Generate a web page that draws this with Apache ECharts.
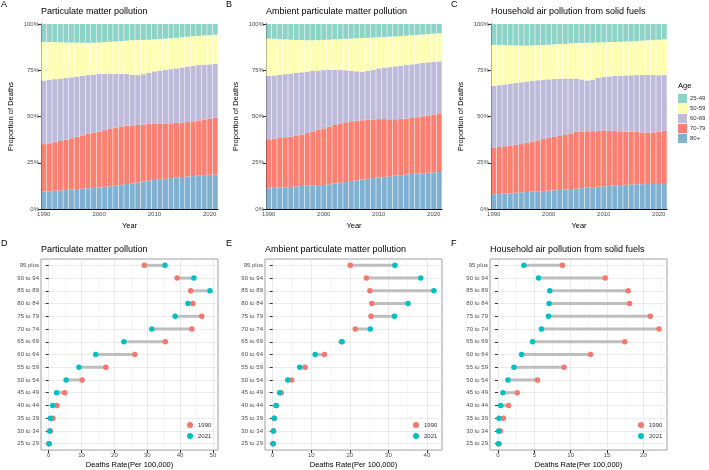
<!DOCTYPE html>
<html>
<head>
<meta charset="utf-8">
<script src="https://cdn.jsdelivr.net/npm/echarts@6/dist/echarts.min.js"></script>
<style>
  html, body { margin: 0; padding: 0; background: #fff; }
  #main { width: 709px; height: 470px; }
</style>
</head>
<body>
<div id="main"></div>
<script>
// years on the x axis of the top row
var years = ['1990', '1991', '1992', '1993', '1994', '1995', '1996', '1997', '1998', '1999',
  '2000', '2001', '2002', '2003', '2004', '2005', '2006', '2007', '2008', '2009',
  '2010', '2011', '2012', '2013', '2014', '2015', '2016', '2017', '2018', '2019',
  '2020', '2021'];
var ageGroups = ['25-49', '50-59', '60-69', '70-79', '80+'];
var ageColors = ['#8DD3C7', '#FFFFB3', '#BEBADA', '#FB8072', '#80B1D3'];

// A: Particulate matter pollution, share of deaths (%)
var pmAge80 = [9.4, 9.6, 9.9, 10.1, 10.3, 10.5, 10.8, 11.0, 11.2, 11.4, 11.6, 12.0, 12.3, 12.7, 13.1, 13.5, 13.9, 14.3, 14.8, 15.3, 15.7, 16.0, 16.3, 16.7, 17.0, 17.3, 17.6, 17.8, 18.0, 18.3, 18.5, 18.7];
var pmAge70 = [25.7, 25.9, 26.2, 26.7, 27.2, 27.7, 28.2, 28.8, 29.4, 29.9, 30.3, 30.6, 31.0, 31.3, 31.5, 31.5, 31.3, 31.1, 30.9, 30.7, 30.6, 30.3, 29.9, 29.6, 29.5, 29.4, 29.4, 29.6, 29.9, 30.1, 30.4, 30.7];
var pmAge60 = [34.3, 34.3, 34.1, 33.7, 33.4, 33.0, 32.6, 32.2, 31.8, 31.4, 31.1, 30.5, 29.9, 29.2, 28.5, 28.0, 27.4, 27.0, 27.2, 27.7, 28.1, 28.5, 29.0, 29.3, 29.5, 29.8, 30.0, 30.0, 29.9, 29.6, 29.3, 29.0];
var pmAge50 = [21.0, 20.5, 20.0, 19.6, 19.1, 18.8, 18.3, 17.9, 17.4, 17.2, 17.0, 17.1, 17.2, 17.4, 17.7, 18.0, 18.6, 18.9, 18.5, 17.8, 17.3, 17.1, 16.9, 16.7, 16.5, 16.3, 16.1, 16.0, 15.8, 15.8, 15.8, 15.8];
var pmAge25 = [9.6, 9.7, 9.8, 9.9, 10.0, 10.0, 10.1, 10.1, 10.2, 10.1, 10.0, 9.8, 9.6, 9.4, 9.2, 9.0, 8.8, 8.7, 8.6, 8.5, 8.3, 8.1, 7.9, 7.7, 7.5, 7.2, 6.9, 6.6, 6.4, 6.2, 6.0, 5.8];

// B: Ambient particulate matter pollution
var apAge80 = [11.2, 11.4, 11.6, 11.8, 12.0, 12.2, 12.4, 12.6, 12.7, 12.9, 13.0, 13.4, 13.8, 14.2, 14.6, 15.1, 15.5, 15.9, 16.3, 16.7, 17.1, 17.4, 17.7, 18.0, 18.3, 18.6, 18.9, 19.1, 19.3, 19.6, 19.8, 20.0];
var apAge70 = [26.5, 26.6, 26.8, 27.0, 27.1, 27.3, 27.9, 28.5, 29.3, 29.9, 30.6, 31.1, 31.6, 32.1, 32.3, 32.3, 32.2, 32.1, 31.9, 31.7, 31.5, 31.2, 30.8, 30.5, 30.3, 30.2, 30.3, 30.5, 30.8, 31.0, 31.3, 31.7];
var apAge60 = [34.2, 34.2, 34.1, 34.1, 34.1, 34.0, 33.6, 33.2, 32.6, 32.1, 31.5, 30.7, 29.8, 28.8, 28.1, 27.4, 26.7, 26.1, 26.4, 26.9, 27.4, 27.8, 28.2, 28.6, 28.9, 29.0, 29.0, 29.0, 28.9, 28.7, 28.5, 28.1];
var apAge50 = [20.2, 19.8, 19.3, 18.8, 18.3, 17.9, 17.4, 16.9, 16.6, 16.4, 16.3, 16.3, 16.5, 16.7, 17.0, 17.3, 17.9, 18.3, 17.9, 17.4, 16.8, 16.6, 16.5, 16.2, 16.0, 15.9, 15.7, 15.5, 15.3, 15.3, 15.2, 15.2];
var apAge25 = [7.9, 8.0, 8.2, 8.3, 8.5, 8.6, 8.7, 8.8, 8.8, 8.7, 8.6, 8.5, 8.3, 8.2, 8.0, 7.9, 7.7, 7.6, 7.5, 7.3, 7.2, 7.0, 6.8, 6.7, 6.5, 6.3, 6.1, 5.9, 5.7, 5.4, 5.2, 5.0];

// C: Household air pollution from solid fuels
var hhAge80 = [7.9, 8.1, 8.3, 8.5, 8.8, 9.0, 9.2, 9.4, 9.5, 9.7, 9.9, 10.1, 10.3, 10.6, 10.8, 11.0, 11.3, 11.5, 11.8, 12.0, 12.3, 12.5, 12.7, 12.9, 13.1, 13.3, 13.4, 13.4, 13.5, 13.5, 13.5, 13.5];
var hhAge70 = [25.3, 25.4, 25.6, 25.8, 25.9, 26.1, 26.5, 27.0, 27.6, 28.1, 28.5, 28.9, 29.2, 29.4, 30.1, 30.8, 30.7, 30.5, 30.3, 30.3, 30.2, 29.9, 29.5, 29.1, 28.8, 28.5, 28.2, 28.0, 27.8, 27.9, 28.2, 28.7];
var hhAge60 = [33.3, 33.4, 33.4, 33.4, 33.4, 33.4, 33.2, 32.9, 32.5, 32.1, 31.7, 31.3, 30.9, 30.5, 29.6, 28.7, 28.0, 27.5, 27.9, 28.5, 29.0, 29.3, 29.7, 30.0, 30.3, 30.5, 30.8, 31.1, 31.2, 31.0, 30.6, 30.2];
var hhAge50 = [22.3, 21.8, 21.3, 20.8, 20.3, 19.8, 19.4, 19.1, 18.9, 18.7, 18.7, 18.7, 18.8, 18.8, 19.0, 19.2, 19.8, 20.4, 19.9, 19.2, 18.6, 18.5, 18.4, 18.4, 18.3, 18.3, 18.4, 18.5, 18.7, 19.0, 19.2, 19.3];
var hhAge25 = [11.2, 11.3, 11.4, 11.5, 11.6, 11.7, 11.7, 11.6, 11.5, 11.4, 11.2, 11.0, 10.8, 10.7, 10.5, 10.3, 10.2, 10.1, 10.1, 10.0, 9.9, 9.8, 9.7, 9.6, 9.5, 9.4, 9.2, 9.0, 8.8, 8.6, 8.5, 8.3];

// bottom row: age bands (bottom to top) and death rates per 100,000
var rateAges = ['25 to 29', '30 to 34', '35 to 39', '40 to 44', '45 to 49', '50 to 54', '55 to 59',
  '60 to 64', '65 to 69', '70 to 74', '75 to 79', '80 to 84', '85 to 89', '90 to 94', '95 plus'];
var pmRate1990 = [0.1, 0.5, 1.3, 2.5, 4.9, 10.2, 17.4, 26.2, 35.5, 43.6, 46.6, 43.9, 43.2, 39.1, 29.1];
var pmRate2021 = [0.1, 0.3, 0.5, 1.2, 2.4, 5.3, 9.2, 14.3, 22.9, 31.4, 38.5, 42.4, 49.1, 44.2, 35.4];
var apRate1990 = [0.1, 0.2, 0.4, 0.9, 2.2, 4.9, 8.4, 13.4, 17.8, 21.4, 25.5, 25.7, 25.2, 24.3, 20.1];
var apRate2021 = [0.1, 0.2, 0.4, 0.9, 1.8, 3.9, 7.0, 11.0, 18.0, 25.3, 31.6, 35.1, 41.8, 38.4, 31.7];
var hhRate1990 = [0.15, 0.32, 0.73, 1.46, 2.65, 5.43, 9.09, 12.74, 17.44, 22.15, 20.96, 18.1, 17.9, 14.75, 8.86];
var hhRate2021 = [0.05, 0.09, 0.14, 0.37, 0.68, 1.37, 2.19, 3.24, 4.75, 5.98, 6.94, 7.03, 7.12, 5.57, 3.56];
var rateTicks = [[0, 10, 20, 30, 40, 50], [0, 10, 20, 30, 40], [0, 5, 10, 15, 20]];
var rateMinor = [[5, 15, 25, 35, 45], [5, 15, 25, 35], [2.5, 7.5, 12.5, 17.5, 22.5]];

var titles = ['Particulate matter pollution', 'Ambient particulate matter pollution', 'Household air pollution from solid fuels'];
var topShares = [
  [pmAge25, pmAge50, pmAge60, pmAge70, pmAge80],
  [apAge25, apAge50, apAge60, apAge70, apAge80],
  [hhAge25, hhAge50, hhAge60, hhAge70, hhAge80]
];
var rates = [[pmRate1990, pmRate2021], [apRate1990, apRate2021], [hhRate1990, hhRate2021]];

var myChart = echarts.init(document.getElementById('main'));

var lefts = [41, 266, 491];
var rights = [491, 267, 42];   // distance from right edge
var botLefts = [41, 265, 490];
var botRights = [491, 267, 42];
var rateRange = [[-2.35, 51.55], [-2.0, 43.9], [-1.1, 23.25]];
var labelGrey = '#4D4D4D';
var yearTick = function (idx, val) { return Number(val) % 10 === 0; };

var grid = [], xAxis = [], yAxis = [], series = [], title = [], legend = [];

// panel letters and titles
['A', 'B', 'C'].forEach(function (l, i) {
  title.push({ text: l, left: [1, 226, 451][i], top: 0, padding: 0,
    textStyle: { fontSize: 9, fontWeight: 'normal', color: '#000' } });
  title.push({ text: titles[i], left: lefts[i], top: 7, padding: 0,
    textStyle: { fontSize: 9, fontWeight: 'normal', color: '#000' } });
});
['D', 'E', 'F'].forEach(function (l, i) {
  title.push({ text: l, left: [1, 226, 451][i], top: 239, padding: 0,
    textStyle: { fontSize: 9, fontWeight: 'normal', color: '#000' } });
  title.push({ text: titles[i], left: botLefts[i], top: 245, padding: 0,
    textStyle: { fontSize: 9, fontWeight: 'normal', color: '#000' } });
});
title.push({ text: 'Age', left: 678, top: 82, padding: 0,
  textStyle: { fontSize: 7.5, fontWeight: 'normal', color: '#000' } });

// top row: stacked proportions
for (var i = 0; i < 3; i++) {
  grid.push({ left: lefts[i], right: rights[i], top: 24, height: 185 });
  xAxis.push({
    type: 'category', gridIndex: i, data: years,
    axisLine: { lineStyle: { color: '#000', width: 1 } },
    axisTick: { alignWithLabel: true, interval: yearTick, length: 3, lineStyle: { color: '#333' } },
    axisLabel: { interval: yearTick, fontSize: 6, color: labelGrey, margin: 2 },
    name: 'Year', nameLocation: 'middle', nameGap: 13,
    nameTextStyle: { fontSize: 7.5, color: '#000' }
  });
  yAxis.push({
    type: 'value', gridIndex: i, min: 0, max: 100, interval: 25,
    axisLine: { show: true, lineStyle: { color: '#000', width: 1 } },
    axisTick: { show: true, length: 3, lineStyle: { color: '#333' } },
    axisLabel: { formatter: '{value}%', fontSize: 6, color: labelGrey, margin: 2 },
    splitLine: { show: false },
    name: 'Proportion of Deaths', nameLocation: 'middle', nameGap: 26,
    nameTextStyle: { fontSize: 7.5, color: '#000' }
  });
  // stack from the bottom: 80+ first
  for (var g = 4; g >= 0; g--) {
    series.push({
      type: 'bar', name: ageGroups[g], stack: 'share' + i,
      xAxisIndex: i, yAxisIndex: i,
      data: topShares[i][g], barCategoryGap: '10%',
      itemStyle: { color: ageColors[g] }
    });
  }
}

legend.push({
  data: ageGroups, left: 678, top: 94, orient: 'vertical', padding: 0,
  icon: 'rect', itemWidth: 9, itemHeight: 9, itemGap: 1, selectedMode: false,
  textStyle: { fontSize: 6, color: '#333', padding: [0, 0, 0, -2] }
});

// bottom row: 1990 vs 2021 death rates
for (var k = 0; k < 3; k++) {
  var gi = 3 + k;
  grid.push({ left: botLefts[k], right: botRights[k], top: 259, height: 192,
    show: true, borderColor: '#A0A0A0', borderWidth: 1 });
  xAxis.push({
    type: 'value', gridIndex: gi, min: rateRange[k][0], max: rateRange[k][1],
    axisLine: { show: false },
    axisTick: { show: true, length: 3, customValues: rateTicks[k], lineStyle: { color: '#333' } },
    axisLabel: { customValues: rateTicks[k], fontSize: 6, color: labelGrey, margin: 2 },
    splitLine: { show: true, lineStyle: { color: '#E6E6E6', width: 0.8 } },
    name: 'Deaths Rate(Per 100,000)', nameLocation: 'middle', nameGap: 11,
    nameTextStyle: { fontSize: 7.5, color: '#000' }
  });
  yAxis.push({
    type: 'category', gridIndex: gi, data: rateAges,
    axisLine: { show: false },
    axisTick: { show: true, alignWithLabel: true, length: 3, lineStyle: { color: '#333' } },
    axisLabel: { fontSize: 6, color: labelGrey, margin: 2 },
    splitLine: { show: true, alignWithLabel: true, lineStyle: { color: '#E6E6E6', width: 0.8 } }
  });
  legend.push({
    data: ['1990', '2021'], left: [187, 413, 638][k], top: 422, orient: 'vertical', padding: 0,
    icon: 'circle', itemWidth: 6, itemHeight: 6, itemGap: 5, selectedMode: false,
    textStyle: { fontSize: 6, color: '#333' }
  });
}
// minor vertical grid lines
for (var m = 0; m < 3; m++) {
  xAxis.push({
    type: 'value', gridIndex: 3 + m, min: rateRange[m][0], max: rateRange[m][1], position: 'bottom',
    axisLine: { show: false }, axisLabel: { show: false },
    axisTick: { show: false, customValues: rateMinor[m] },
    splitLine: { show: true, lineStyle: { color: '#F2F2F2', width: 0.6 } }
  });
}

for (var s = 0; s < 3; s++) {
  var r90 = rates[s][0], r21 = rates[s][1];
  series.push({
    type: 'custom', xAxisIndex: 3 + s, yAxisIndex: 3 + s,
    data: rateAges.map(function (a, i) { return [r90[i], r21[i], i]; }),
    encode: { x: [0, 1], y: 2 },
    renderItem: function (params, api) {
      var p1 = api.coord([api.value(0), api.value(2)]);
      var p2 = api.coord([api.value(1), api.value(2)]);
      return { type: 'line', shape: { x1: p1[0], y1: p1[1], x2: p2[0], y2: p2[1] },
        style: { stroke: '#BEBEBE', lineWidth: 3 } };
    }
  });
  series.push({
    type: 'scatter', name: '1990', xAxisIndex: 3 + s, yAxisIndex: 3 + s,
    symbolSize: 5.5, itemStyle: { color: '#F8766D', opacity: 1 },
    data: r90.map(function (v, i) { return [v, rateAges[i]]; })
  });
  series.push({
    type: 'scatter', name: '2021', xAxisIndex: 3 + s, yAxisIndex: 3 + s,
    symbolSize: 5.5, itemStyle: { color: '#00BFC4', opacity: 1 },
    data: r21.map(function (v, i) { return [v, rateAges[i]]; })
  });
}

myChart.setOption({
  animation: false,
  textStyle: { fontFamily: 'Liberation Sans' },
  title: title,
  legend: legend,
  grid: grid,
  xAxis: xAxis,
  yAxis: yAxis,
  series: series
});
</script>
</body>
</html>
